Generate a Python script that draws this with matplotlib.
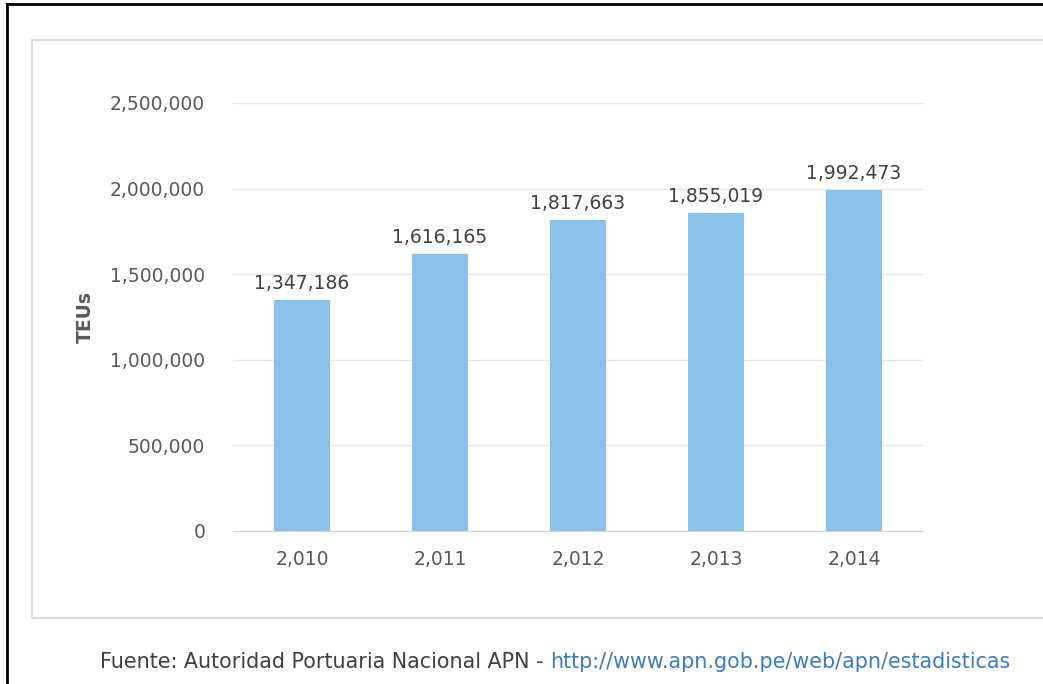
import numpy as np
import matplotlib
matplotlib.use("Agg")
import matplotlib.pyplot as plt
from matplotlib.lines import Line2D
from matplotlib.patches import Rectangle
from matplotlib.ticker import FuncFormatter

# Data
years = ["2,010", "2,011", "2,012", "2,013", "2,014"]
teus = [1347186, 1616165, 1817663, 1855019, 1992473]
y_ticks = [0, 500000, 1000000, 1500000, 2000000, 2500000]

W, H = 1043, 684
fig = plt.figure(figsize=(W / 100, H / 100), dpi=100)
fig.patch.set_facecolor("white")
plt.rcParams["font.family"] = ["DejaVu Sans"]
fs = 13.5

# outer black frame (left and top visible) and light chart box
fig.add_artist(Line2D([7 / W, 7 / W], [0, 1 - 4 / H], color="black", lw=2))
fig.add_artist(Line2D([7 / W, 1], [1 - 4 / H, 1 - 4 / H], color="black", lw=2))
fig.add_artist(Rectangle((32 / W, 1 - 618 / H), 1.2, (618 - 40) / H,
                         transform=fig.transFigure, fill=False,
                         edgecolor="#DCDCDC", lw=1.5))

ax = fig.add_axes([233 / W, 1 - 531 / H, 690 / W, 428 / H])
x = np.arange(len(years))
bars = ax.bar(x, teus, width=0.41, color="#8AC1E8", zorder=3)

ax.set_xlim(-0.5, len(years) - 0.5)
ax.set_ylim(0, 2500000)
ax.set_yticks(y_ticks)
ax.yaxis.set_major_formatter(FuncFormatter(lambda v, p: f"{int(v):,}"))
ax.set_xticks(x)
ax.set_xticklabels(years)
ax.grid(axis="y", color="#E6E6E6", lw=1, zorder=0)
for s in ["top", "right", "left"]:
    ax.spines[s].set_visible(False)
ax.spines["bottom"].set_color("#D4D4D4")
ax.tick_params(axis="both", length=0, labelsize=fs, colors="#595959")
ax.tick_params(axis="y", pad=20)
ax.tick_params(axis="x", pad=14)

for xi, v in zip(x, teus):
    ax.annotate(f"{v:,}", (xi, v), xytext=(0, 5), textcoords="offset points",
                ha="center", va="bottom", fontsize=fs, color="#404040")

ax.set_ylabel("TEUs", fontsize=fs, color="#595959", fontweight="bold", labelpad=11)

# footer
ffs = 14.9
t1 = fig.text(100 / W, 1 - 662 / H, "Fuente: Autoridad Portuaria Nacional APN - ",
              fontsize=ffs, color="#404040", va="center", ha="left")
fig.canvas.draw()
bb = t1.get_window_extent()
fig.text(bb.x1 / W, 1 - 662 / H, "http://www.apn.gob.pe/web/apn/estadisticas",
         fontsize=ffs, color="#3D7CC0", va="center", ha="left")

fig.savefig("out.png", dpi=100, facecolor="white")
